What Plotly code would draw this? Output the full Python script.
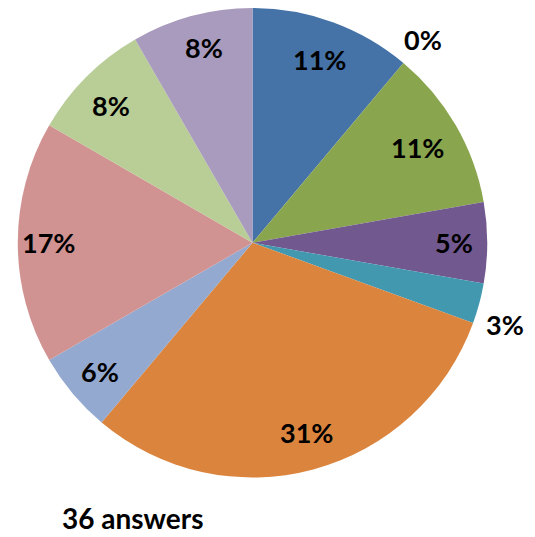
import math
import plotly.graph_objects as go

categories = ["A", "B", "C", "D", "E", "F", "G", "H", "I", "J"]
counts = [4, 0, 4, 2, 1, 11, 2, 6, 3, 3]
pct_labels = ["11%", "0%", "11%", "5%", "3%", "31%", "6%", "17%", "8%", "8%"]
total_label = "36 answers"

# ---- styling / layout ----
colors = ["#4572A7", "#AA4643", "#89A54E", "#71588F", "#4198AF",
          "#DB843D", "#93A9CF", "#D19392", "#B9CD96", "#A99BBD"]
label_radius = [0.83, 1.13, 0.81, 0.86, 1.13, 0.84, 0.85, 0.87, 0.84, 0.855]
label_angle_shift = [0, 0, 0, 0, 3, -1, 0, 0, -1, 1]  # degrees
W, H = 527, 529  # page body adds an 8px margin
dom_x = [0.0171, 0.9108]
dom_y = [0.1125, 1.0]
font_family = "Lato"

fig = go.Figure(go.Pie(
    labels=categories,
    values=counts,
    textinfo="none",
    sort=False,
    direction="clockwise",
    rotation=0,
    marker=dict(colors=colors, line=dict(width=0)),
    hoverinfo="label+percent",
    showlegend=False,
    domain=dict(x=dom_x, y=dom_y),
))

# pie geometry in figure pixels (derived from the domain)
pcx = (dom_x[0] + dom_x[1]) / 2 * W
pcy = H - (dom_y[0] + dom_y[1]) / 2 * H
R = min((dom_x[1] - dom_x[0]) * W, (dom_y[1] - dom_y[0]) * H) / 2
total = sum(counts)
cum = 0
for v, txt, k, sh in zip(counts, pct_labels, label_radius, label_angle_shift):
    mid = 2 * math.pi * (cum + v / 2) / total + math.radians(sh)
    cum += v
    px = pcx + k * R * math.sin(mid)
    py = pcy - k * R * math.cos(mid)
    fig.add_annotation(text=txt, x=px / W, y=1 - py / H, xref="paper", yref="paper",
                       xanchor="center", yanchor="middle", showarrow=False,
                       font=dict(family=font_family, size=27, color="black", weight="bold"))

fig.add_annotation(text=total_label, x=52 / W, y=0, yshift=0,
                   xref="paper", yref="paper", xanchor="left", yanchor="bottom",
                   showarrow=False,
                   font=dict(family=font_family, size=28, color="black", weight="bold"))

fig.update_layout(width=W, height=H, margin=dict(l=0, r=0, t=0, b=0),
                  paper_bgcolor="white", plot_bgcolor="white")
fig.write_html("out.html")
